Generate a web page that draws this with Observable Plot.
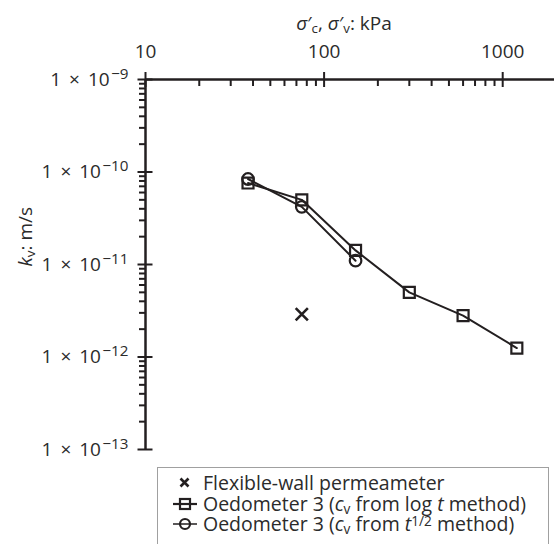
<!DOCTYPE html>
<html><head><meta charset="utf-8">
<script src="https://cdn.jsdelivr.net/npm/d3@7"></script>
<script src="https://cdn.jsdelivr.net/npm/@observablehq/plot@0.6"></script>
<style>
body{margin:0;background:#fff;font-family:"Open Sans",sans-serif;color:#2b2b2b;}
#wrap{position:relative;width:554px;height:544px;overflow:hidden;}
#legend{position:absolute;left:157px;top:467px;width:392px;height:90px;border:1.5px solid #a0a0a0;box-sizing:border-box;font-size:19.5px;padding-top:5px;}
.row{display:flex;align-items:center;height:20.5px;line-height:20px;white-space:nowrap;}
.sym{width:26px;height:16px;margin-left:14px;margin-right:5px;flex:none;}
.sub{font-size:0.7em;vertical-align:-0.2em;line-height:0;}
.sup{font-size:0.7em;vertical-align:0.4em;line-height:0;}
</style></head>
<body><div id="wrap"><div id="chart"></div>
<div id="legend">
 <div class="row"><svg class="sym" viewBox="0 0 26 16"><path d="M8.5,3.5L16.5,11.5M8.5,11.5L16.5,3.5" stroke="#231f20" stroke-width="2.6" fill="none"/></svg><span>Flexible-wall permeameter</span></div>
 <div class="row"><svg class="sym" viewBox="0 0 26 16"><line x1="1" y1="8" x2="25" y2="8" stroke="#231f20" stroke-width="2.2"/><rect x="8" y="3" width="10" height="10" stroke="#231f20" stroke-width="2.2" fill="none"/></svg><span>Oedometer 3 (<i>c</i><span class="sub">v</span> from log <i>t</i> method)</span></div>
 <div class="row"><svg class="sym" viewBox="0 0 26 16"><line x1="1" y1="8" x2="25" y2="8" stroke="#231f20" stroke-width="1.5"/><circle cx="13" cy="8" r="5" stroke="#231f20" stroke-width="2.2" fill="none"/></svg><span>Oedometer 3 (<i>c</i><span class="sub">v</span> from <i>t</i><span class="sup">1/2</span> method)</span></div>
</div></div>
<script>
// ---- data ----
const pressureLogT = [37.5, 75, 150, 300, 600, 1200];
const kvLogT = [7.6e-11, 5.0e-11, 1.42e-11, 5.0e-12, 2.8e-12, 1.25e-12];
const pressureSqrtT = [37.5, 75, 150];
const kvSqrtT = [8.4e-11, 4.2e-11, 1.1e-11];
const pressureFlex = [75];
const kvFlex = [2.9e-12];
const xMajor = [10, 100, 1000];
const yMajor = [1e-9, 1e-10, 1e-11, 1e-12, 1e-13];
const yExponent = [-9, -10, -11, -12, -13];
const minorMult = [2, 3, 4, 5, 6, 7, 8, 9];

const xMinor = [10, 100, 1000].flatMap(d => minorMult.map(m => m * d)).filter(v => v < 1950);
const yMinor = [1e-13, 1e-12, 1e-11, 1e-10].flatMap(d => minorMult.map(m => m * d));

const logT = pressureLogT.map((x, i) => ({x, y: kvLogT[i]}));
const sqrtT = pressureSqrtT.map((x, i) => ({x, y: kvSqrtT[i]}));
const flex = pressureFlex.map((x, i) => ({x, y: kvFlex[i]}));
const expOf = new Map(yMajor.map((v, i) => [v, yExponent[i]]));

const ink = "#231f20";
const txt = "#2b2b2b";
const chart = Plot.plot({
  width: 554, height: 462,
  marginTop: 79, marginBottom: 13, marginLeft: 145, marginRight: 0,
  style: {fontFamily: "'Open Sans', sans-serif", fontSize: "19px", color: ink, background: "white", overflow: "visible"},
  x: {type: "log", domain: [10, 1950]},
  y: {type: "log", domain: [1e-13, 1e-9]},
  marks: [
    Plot.axisX(xMinor, {anchor: "top", tickSize: 6, dy: 6, fill: "none", label: null, strokeWidth: 2}),
    Plot.axisX(xMajor, {anchor: "top", tickSize: 15, dy: 7, fill: "none", label: null, strokeWidth: 2}),
    Plot.axisX(xMajor, {anchor: "top", tickSize: 0, tickPadding: 22, label: null, tickFormat: d => String(d), fill: txt}),
    Plot.axisY(yMinor, {anchor: "left", tickSize: 6, fill: "none", label: null, strokeWidth: 2}),
    Plot.axisY(yMajor, {anchor: "left", tickSize: 15, dx: 7.5, fill: "none", label: null, strokeWidth: 2}),
    Plot.axisY(yMajor, {anchor: "left", tickSize: 0, tickPadding: 17, label: null, fill: txt,
      tickFormat: d => "1 × 10^" + String(expOf.get(d)).replace("-", "−")}),
    Plot.ruleX([10], {stroke: ink, strokeWidth: 2.5}),
    Plot.ruleY([1e-9], {stroke: ink, strokeWidth: 2.5}),
    Plot.line(logT, {x: "x", y: "y", stroke: ink, strokeWidth: 2}),
    Plot.line(sqrtT, {x: "x", y: "y", stroke: ink, strokeWidth: 2}),
    Plot.dot(logT, {x: "x", y: "y", symbol: "square", r: 6.2, stroke: ink, strokeWidth: 2.2, fill: "none"}),
    Plot.dot(sqrtT, {x: "x", y: "y", symbol: "circle", r: 5.8, stroke: ink, strokeWidth: 2.2, fill: "none"}),
    Plot.dot(flex, {x: "x", y: "y", symbol: "times", r: 5.6, stroke: ink, strokeWidth: 2.6}),
    Plot.text(["@xtitle"], {frameAnchor: "top", dx: -6, dy: -63, fill: txt, fontSize: 19}),
    Plot.text(["@ytitle"], {frameAnchor: "left", dx: -120, dy: 2, rotate: -90, fill: txt, fontSize: 19})
  ]
});
document.getElementById("chart").append(chart);

function rich(el, parts) {
  const t = d3.select(el);
  t.text(null);
  parts.forEach(([s, st, dx]) => {
    const ts = t.append("tspan").text(s);
    if (dx) ts.attr("dx", dx);
    if (st.includes("i")) ts.attr("font-style", "italic");
    if (st.includes("sub")) ts.attr("font-size", "0.7em").attr("baseline-shift", "-0.25em");
    if (st.includes("sup")) ts.attr("font-size", "0.8em").attr("baseline-shift", "0.45em");
  });
}
d3.select(chart).selectAll("text").each(function() {
  const s = this.textContent;
  if (s === "@xtitle") {
    rich(this, [["σ", "i"], ["′", ""], ["c", "sub"], [", ", ""], ["σ", "i"], ["′", ""], ["v", "sub"], [": kPa", ""]]);
  } else if (s === "@ytitle") {
    rich(this, [["k", "i"], ["v", "sub"], [": m/s", ""]]);
  } else if (s.includes("^")) {
    const [base, ex] = s.split("^");
    const [one, times, ten] = base.split(" ");
    rich(this, [[one, ""], [" " + times, "", 3], [" " + ten, "", 3], [ex, "sup", 1.5]]);
  }
});
</script>
</body></html>
